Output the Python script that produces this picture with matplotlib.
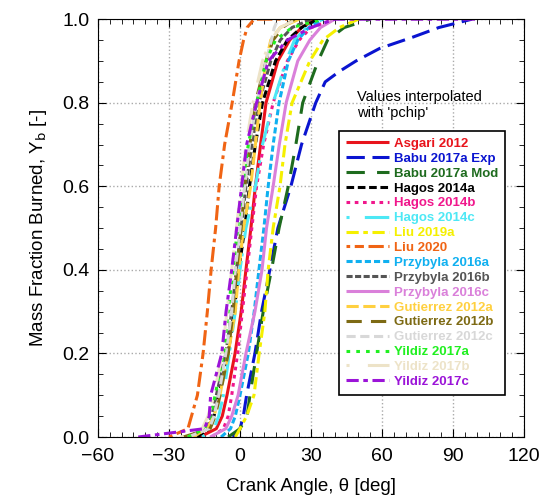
import numpy as np
import matplotlib.pyplot as plt
from matplotlib.ticker import MultipleLocator

plt.rcParams['font.family'] = ['Liberation Sans', 'DejaVu Sans']

# mass fraction burned levels at which crank angles were read
yb = [0, 0.02, 0.05, 0.1, 0.2, 0.3, 0.4, 0.5, 0.6, 0.7, 0.8, 0.9, 0.95, 0.98, 1.0]

# crank angle (deg) at each level, per source
asgari_2012 = [-17, -10, -7.5, -5.5, -2.1, 0.5, 2.5, 4.6, 6.5, 8.7, 11, 16, 21, 26, 32]
babu_2017a_mod = [-5, 0, 3, 4.2, 7, 9.8, 13.3, 16.5, 20.4, 23.6, 26.5, 33, 37, 44, 55]
hagos_2014a = [-18, -13, -11, -9, -5, -2.5, -0.5, 2, 4, 6.5, 9.5, 15, 20, 26, 33]
hagos_2014b = [-12, -7, -5, -3.5, -1, 1, 3, 5, 7, 10, 14, 20, 25, 30, 40]
hagos_2014c = [-16, -11, -9, -7, -4.5, -2, 0, 2.5, 6.5, 9.5, 14, 19.5, 23, 28, 35]
liu_2019a = [-2, 0, 2.8, 5.9, 8.1, 10.5, 11.9, 14, 16.9, 19, 22, 29.5, 35, 42, 50]
liu_2020 = [-30, -22, -20.5, -18, -15.6, -13.8, -12.2, -10.3, -8.8, -6.5, -3.3, -0.4, 1.5, 3, 6]
przybyla_2016a = [-8, -4, -2, 0, 3.5, 6, 8, 10.1, 11.9, 14, 16.5, 20.4, 24.4, 29, 35]
przybyla_2016b = [-20, -14, -12, -10, -6, -3.5, -1.5, 0.5, 2.5, 5, 8, 13, 17, 22, 30]
przybyla_2016c = [-12.6, -6, -3.5, -0.8, 2.5, 6.3, 9.3, 11.2, 14, 16.6, 19.5, 24.4, 29.5, 34, 40]
gutierrez_2012a = [-20, -14, -11, -8.5, -5, -2, -0.5, 1.5, 4.5, 6.5, 8.5, 11, 13, 17, 25]
gutierrez_2012b = [-24, -12.6, -10.5, -8.4, -5, -2.9, -1.4, 0.5, 2, 4.2, 6.5, 11, 14, 18, 23]
gutierrez_2012c = [-22, -13, -11, -9, -6, -3.5, -2, 0, 2, 4, 7, 11, 13.3, 14.5, 16]
yildiz_2017a = [-22, -15, -12.5, -10.5, -7, -5, -3, -1, 1, 3.5, 7, 11, 15, 22, 35]
yildiz_2017b = [-25, -16, -13.5, -11, -7.5, -5.5, -3.5, -1.5, 0.5, 2.5, 5.5, 9.5, 13, 17, 24]
yildiz_2017c = [-43, -15, -13, -12.4, -7.7, -5.9, -3.5, -1.4, 0.7, 2.8, 7, 12, 20, 30, 40]

# Babu experiment has a long tail, read on its own levels
babu_exp_yb = [0, 0.02, 0.05, 0.1, 0.2, 0.3, 0.4, 0.5, 0.6, 0.7, 0.8, 0.85, 0.875,
               0.9, 0.93, 0.957, 0.98, 1.0]
babu_2017a_exp = [-3, 0, 1.4, 2.8, 6.3, 9.1, 12.6, 16, 21.5, 26, 32, 36, 42, 49, 59,
                  73, 84, 98]

# extra flat tails (theta where curve still sits at 1)
tail_end = {'Liu 2020': 20, 'Yildiz 2017c': 100}

series = [
    ('Asgari 2012', asgari_2012, '#E8141C', (None, None)),
    ('Babu 2017a Exp', babu_2017a_exp, '#0A14D0', (6, 2.5)),
    ('Babu 2017a Mod', babu_2017a_mod, '#1E6B1E', (6, 4)),
    ('Hagos 2014a', hagos_2014a, '#000000', (2.5, 1.2)),
    ('Hagos 2014b', hagos_2014b, '#F0178C', (1.2, 1.5)),
    ('Hagos 2014c', hagos_2014c, '#4DE8F5', (1, 5, 8, 1.5)),
    ('Liu 2019a', liu_2019a, '#F5F000', (4, 1.5, 1.5, 1.5)),
    ('Liu 2020', liu_2020, '#F06414', (1.2, 1.5, 3, 1.5, 5, 1.5)),
    ('Przybyla 2016a', przybyla_2016a, '#10B0F0', (2, 1)),
    ('Przybyla 2016b', przybyla_2016b, '#555555', (2, 0.8)),
    ('Przybyla 2016c', przybyla_2016c, '#DA80DA', (None, None)),
    ('Gutierrez 2012a', gutierrez_2012a, '#FFD040', (4, 1.5)),
    ('Gutierrez 2012b', gutierrez_2012b, '#7D6A14', (5, 3)),
    ('Gutierrez 2012c', gutierrez_2012c, '#D8D8D8', (3, 1.5)),
    ('Yildiz 2017a', yildiz_2017a, '#20F020', (1.2, 2)),
    ('Yildiz 2017b', yildiz_2017b, '#EDE3C8', (1, 6, 8, 1.5)),
    ('Yildiz 2017c', yildiz_2017c, '#9B14D8', (4, 1.5, 1.5, 1.5)),
]

fig = plt.figure(figsize=(5.49, 5.01), dpi=100)
ax = fig.add_axes([0.1785, 0.1277, 0.776, 0.834])

for name, th, col, dash in series:
    x = list(th)
    y = list(babu_exp_yb if name == 'Babu 2017a Exp' else yb)
    if name in tail_end:
        x.append(tail_end[name])
        y.append(1.0)
    if dash[0] is None:
        ax.plot(x, y, color=col, lw=2.2, label=name, solid_capstyle='butt')
    else:
        ax.plot(x, y, color=col, lw=2.2, label=name, dashes=dash)

ax.set_xlim(-60, 120)
ax.set_ylim(0, 1)
ax.xaxis.set_major_locator(MultipleLocator(30))
ax.xaxis.set_minor_locator(MultipleLocator(5))
ax.yaxis.set_major_locator(MultipleLocator(0.2))
ax.yaxis.set_minor_locator(MultipleLocator(0.05))
ax.yaxis.set_major_formatter(plt.FormatStrFormatter('%.1f'))
ax.tick_params(which='both', direction='in', top=True, right=True, labelsize=14)
ax.tick_params(which='major', length=6)
ax.tick_params(which='minor', length=3.5)
ax.tick_params(axis='x', which='major', pad=8)
ax.tick_params(axis='y', which='major', pad=6)
ax.grid(True, which='major', color='#AAAAAA', ls=':', lw=1)
ax.set_axisbelow(True)

ax.set_xlabel('Crank Angle, \u03b8 [deg]', fontsize=13.5, labelpad=9)
ax.set_ylabel(r'Mass Fraction Burned, Y$_\mathrm{b}$ [-]', fontsize=13.5, labelpad=10)

ax.text(0.607, 0.83, "Values interpolated\nwith 'pchip'", transform=ax.transAxes,
        fontsize=10.5, va='top', ha='left', linespacing=1.15)

leg = ax.legend(loc='upper left', bbox_to_anchor=(0.55, 0.748), fancybox=False,
                edgecolor='black', framealpha=1, handlelength=3.3,
                handletextpad=0.4, labelspacing=0.2, borderpad=0.5,
                prop={'weight': 'bold', 'size': 9.5})
leg.get_frame().set_linewidth(1.2)
for txt, (name, th, col, dash) in zip(leg.get_texts(), series):
    txt.set_color(col)

fig.savefig('out.png', dpi=100)
